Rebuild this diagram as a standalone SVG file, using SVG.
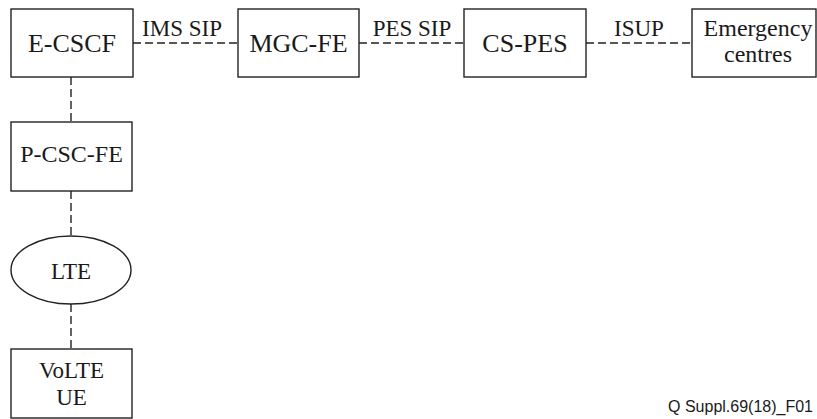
<svg xmlns="http://www.w3.org/2000/svg" width="817" height="419" viewBox="0 0 817 419">
  <style>
    .box { fill: #ffffff; stroke: #222222; stroke-width: 1.4; }
    .link { fill: none; stroke: #222222; stroke-width: 1.4; stroke-dasharray: 8 4; }
  </style>
  <rect width="817" height="419" fill="#ffffff"/>

  <!-- dashed links between the functional entities, with their protocol labels -->
  <g id="connectors">
    <line class="link" x1="133" y1="43" x2="238" y2="43"/>
    <line class="link" x1="359" y1="43" x2="464" y2="43"/>
    <line class="link" x1="586" y1="43" x2="692" y2="43"/>
    <line class="link" x1="71" y1="77" x2="71" y2="122"/>
    <line class="link" x1="71" y1="191" x2="71" y2="236"/>
    <line class="link" x1="71" y1="304" x2="71" y2="349"/>
    <text x="182" y="36" font-family="Times New Roman" font-size="23" text-anchor="middle" fill="#1a1a1a">IMS SIP</text>
    <text x="412" y="36" font-family="Times New Roman" font-size="23" text-anchor="middle" fill="#1a1a1a">PES SIP</text>
    <text x="639" y="36" font-family="Times New Roman" font-size="23" text-anchor="middle" fill="#1a1a1a">ISUP</text>
  </g>

  <!-- nodes -->
  <g id="e-cscf">
    <rect class="box" x="11" y="9" width="122" height="68"/>
    <text x="72" y="52" font-family="Times New Roman" font-size="26" text-anchor="middle" fill="#1a1a1a">E-CSCF</text>
  </g>
  <g id="mgc-fe">
    <rect class="box" x="238" y="9" width="121" height="68"/>
    <text x="298.5" y="52" font-family="Times New Roman" font-size="26" text-anchor="middle" fill="#1a1a1a">MGC-FE</text>
  </g>
  <g id="cs-pes">
    <rect class="box" x="464" y="9" width="122" height="68"/>
    <text x="525" y="52" font-family="Times New Roman" font-size="26" text-anchor="middle" fill="#1a1a1a">CS-PES</text>
  </g>
  <g id="emergency-centres">
    <rect class="box" x="692" y="9" width="124" height="68"/>
    <text x="758" y="36" font-family="Times New Roman" font-size="24" text-anchor="middle" fill="#1a1a1a">Emergency</text>
    <text x="758" y="62" font-family="Times New Roman" font-size="24" text-anchor="middle" fill="#1a1a1a">centres</text>
  </g>
  <g id="p-csc-fe">
    <rect class="box" x="11" y="122" width="121" height="69"/>
    <text x="71.5" y="162" font-family="Times New Roman" font-size="24" text-anchor="middle" fill="#1a1a1a">P-CSC-FE</text>
  </g>
  <g id="lte">
    <ellipse class="box" cx="71" cy="270" rx="60" ry="34"/>
    <text x="71" y="279" font-family="Times New Roman" font-size="23" text-anchor="middle" fill="#1a1a1a">LTE</text>
  </g>
  <g id="volte-ue">
    <rect class="box" x="11" y="349" width="121" height="69"/>
    <text x="71.5" y="378" font-family="Times New Roman" font-size="23" text-anchor="middle" fill="#1a1a1a">VoLTE</text>
    <text x="71.5" y="405" font-family="Times New Roman" font-size="23" text-anchor="middle" fill="#1a1a1a">UE</text>
  </g>

  <text x="813" y="412" font-family="Liberation Sans" font-size="16" text-anchor="end" fill="#1a1a1a">Q Suppl.69(18)_F01</text>
</svg>
